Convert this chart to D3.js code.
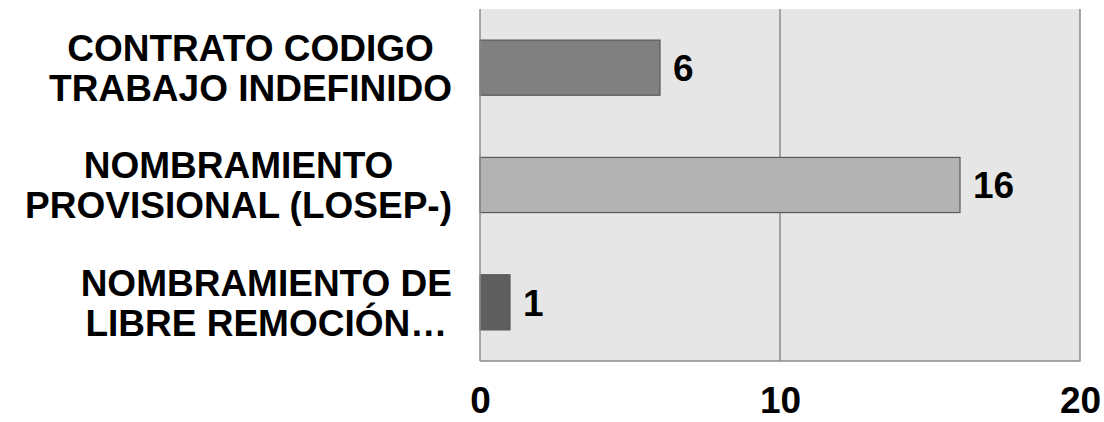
<!DOCTYPE html>
<html><head><meta charset="utf-8">
<script src="https://cdn.jsdelivr.net/npm/d3@7"></script>
<style>body{margin:0;background:#fff}svg{display:block}</style>
</head><body>
<svg id="c" width="1104" height="422"></svg>
<script>
const categories = [
  ["CONTRATO CODIGO", "TRABAJO INDEFINIDO"],
  ["NOMBRAMIENTO", "PROVISIONAL (LOSEP-)"],
  ["NOMBRAMIENTO DE", "LIBRE REMOCIÓN…"]
];
const values = [6, 16, 1];
const barColors = ["#808080", "#b3b3b3", "#5f5f5f"];
const xTicks = [0, 10, 20];

const svg = d3.select("#c");
const m = {left: 480, right: 1080, top: 9, bottom: 361};
const x = d3.scaleLinear().domain([0, 20]).range([m.left, m.right]);
const y = d3.scaleBand().domain(d3.range(categories.length)).range([m.top, m.bottom]).paddingInner(0.53).paddingOuter(0.265);
const font = "'Liberation Sans', Arial, sans-serif";
const fs = 37;

svg.append("rect").attr("x", m.left).attr("y", m.top).attr("width", m.right - m.left).attr("height", m.bottom - m.top).attr("fill", "#e6e6e6");

// gridlines
svg.append("g").selectAll("line").data(xTicks.filter(t => t > 0 && t < 20)).join("line")
  .attr("x1", d => x(d)).attr("x2", d => x(d)).attr("y1", m.top).attr("y2", m.bottom)
  .attr("stroke", "#8c8c8c").attr("stroke-width", 1.5);

// border right & bottom
svg.append("path").attr("d", `M${m.right},${m.top}V${m.bottom}H${m.left}`).attr("fill", "none").attr("stroke", "#8c8c8c").attr("stroke-width", 1.5);

// bars
svg.append("g").selectAll("rect").data(values).join("rect")
  .attr("x", x(0)).attr("y", (d, i) => y(i)).attr("width", d => x(d) - x(0)).attr("height", y.bandwidth())
  .attr("fill", (d, i) => barColors[i]).attr("stroke", "#595959").attr("stroke-width", 1.2);

// left axis line
svg.append("line").attr("x1", m.left).attr("x2", m.left).attr("y1", m.top).attr("y2", m.bottom).attr("stroke", "#8c8c8c").attr("stroke-width", 1.5);

// value labels
svg.append("g").selectAll("text").data(values).join("text")
  .attr("x", d => x(d) + 13).attr("y", (d, i) => y(i) + y.bandwidth() / 2)
  .attr("dy", "0.36em").attr("font-family", font).attr("font-weight", "bold").attr("font-size", fs)
  .attr("fill", "#000").text(d => d);

// x tick labels
const xAxis = svg.append("g").attr("transform", `translate(0,${m.bottom})`)
  .call(d3.axisBottom(x).tickValues(xTicks).tickSize(0).tickPadding(52));
xAxis.select(".domain").remove();
xAxis.selectAll("text").attr("font-family", font).attr("font-weight", "bold").attr("font-size", fs).attr("fill", "#000").attr("dy", "0");

// category labels
const blockRight = 452, lineGap = 40;
categories.forEach((lines, i) => {
  const cy = y(i) + y.bandwidth() / 2;
  const g = svg.append("g");
  const texts = lines.map((t, j) => g.append("text")
    .attr("font-family", font).attr("font-weight", "bold").attr("font-size", fs).attr("fill", "#000")
    .attr("text-anchor", "middle")
    .attr("y", cy + (j - (lines.length - 1) / 2) * lineGap).attr("dy", "0.36em").text(t));
  const w = d3.max(texts, t => t.node().getComputedTextLength());
  texts.forEach(t => t.attr("x", blockRight - w / 2));
});
</script>
</body></html>
